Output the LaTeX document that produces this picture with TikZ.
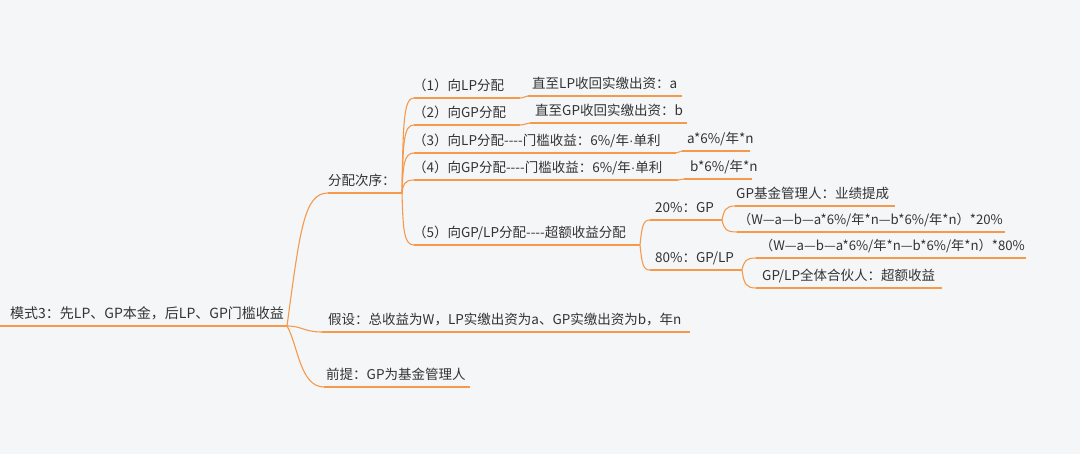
\documentclass[tikz,border=0pt]{standalone}
\usepackage{fontspec}
\setmainfont[Ligatures=TeXOff]{Noto Sans CJK SC}
\newfontfamily\dotfont{Liberation Sans}
\newcommand{\mdot}{{\dotfont ·}}
\definecolor{bgc}{HTML}{F5F6F8}
\definecolor{linec}{HTML}{F59A4C}
\definecolor{txtc}{HTML}{333333}
\begin{document}
\begin{tikzpicture}[x=1pt,y=-1pt,
  txt/.style={anchor=base west,inner sep=0pt,text=txtc,font=\fontsize{13.5}{15}\selectfont},
  roottxt/.style={txt,font=\fontsize{14}{16}\selectfont},
  formtxt/.style={txt,font=\fontsize{13.2}{15}\selectfont},
  ul/.style={draw=linec,line width=1.1pt},
  conn/.style={draw=linec,line width=1.1pt}]
\fill[bgc] (0,0) rectangle (1080,454);
\useasboundingbox (0,0) rectangle (1080,454);

% root
\node[roottxt] (root) at (10,319) {模式3：先LP、GP本金，后LP、GP门槛收益};
\coordinate (rootS) at (0,326); \coordinate (rootE) at (287,326);
\draw[ul] (rootS) -- (rootE);

% level 1
\node[txt] (a) at (328,186) {分配次序：};
\coordinate (aS) at (328,193); \coordinate (aE) at (402,193);
\node[txt] (b) at (328,325) {假设：总收益为W，LP实缴出资为a、GP实缴出资为b，年n};
\coordinate (bS) at (322,332); \coordinate (bE) at (690,332);
\node[txt] (c) at (326,380) {前提：GP为基金管理人};
\coordinate (cS) at (324,387); \coordinate (cE) at (470,387);
\draw[ul] (aS) -- (aE); \draw[ul] (bS) -- (bE); \draw[ul] (cS) -- (cE);
\draw[conn] (rootE) .. controls (300,230) and (304,193) .. (aS);
\draw[conn] (rootE) .. controls (302,326) and (304,332) .. (bS);
\draw[conn] (rootE) .. controls (298,345) and (300,387) .. (cS);

% level 2 under 分配次序
\node[txt] (a1) at (413,91) {（1）向LP分配};
\coordinate (a1S) at (414,98); \coordinate (a1E) at (520,98);
\node[txt] (a2) at (413,118) {（2）向GP分配};
\coordinate (a2S) at (414,125); \coordinate (a2E) at (520,125);
\node[txt] (a3) at (413,146) {（3）向LP分配----门槛收益：6\%/年\mdot 单利};
\coordinate (a3S) at (414,153); \coordinate (a3E) at (676,153);
\node[txt] (a4) at (413,173) {（4）向GP分配----门槛收益：6\%/年\mdot 单利};
\coordinate (a4S) at (414,180); \coordinate (a4E) at (678,180);
\node[txt] (a5) at (413,238) {（5）向GP/LP分配----超额收益分配};
\coordinate (a5S) at (414,245); \coordinate (a5E) at (640,245);
\foreach \n in {a1,a2,a3,a4,a5} \draw[ul] (\n S) -- (\n E);
\draw[conn] (aE) .. controls (403,120) and (404,98) .. (a1S);
\draw[conn] (aE) .. controls (403,140) and (404,125) .. (a2S);
\draw[conn] (aE) .. controls (403,165) and (404,153) .. (a3S);
\draw[conn] (aE) .. controls (403,185) and (404,180) .. (a4S);
\draw[conn] (aE) .. controls (403,230) and (404,245) .. (a5S);

% level 3 single children
\node[txt] (a1a) at (532,89) {直至LP收回实缴出资：a};
\coordinate (a1aS) at (528,96); \coordinate (a1aE) at (682,96);
\node[txt] (a2a) at (535,116) {直至GP收回实缴出资：b};
\coordinate (a2aS) at (530,123); \coordinate (a2aE) at (687,123);
\node[txt] (a3a) at (687,144) {a*6\%/年*n};
\coordinate (a3aS) at (682,151); \coordinate (a3aE) at (750,151);
\node[txt] (a4a) at (690,172) {b*6\%/年*n};
\coordinate (a4aS) at (684,179); \coordinate (a4aE) at (752,179);
\foreach \n in {a1a,a2a,a3a,a4a} \draw[ul] (\n S) -- (\n E);
\draw[conn] (a1E) .. controls (525,98) and (524,96) .. (a1aS);
\draw[conn] (a2E) .. controls (525,125) and (526,123) .. (a2aS);
\draw[conn] (a3E) .. controls (679,153) and (679,151) .. (a3aS);
\draw[conn] (a4E) .. controls (681,180) and (681,179) .. (a4aS);

% level 3 under (5)
\node[txt] (p20) at (655,213) {20\%：GP};
\coordinate (p20S) at (650,220); \coordinate (p20E) at (722,220);
\node[txt] (p80) at (655,263) {80\%：GP/LP};
\coordinate (p80S) at (650,270); \coordinate (p80E) at (742,270);
\draw[ul] (p20S) -- (p20E); \draw[ul] (p80S) -- (p80E);
\draw[conn] (a5E) .. controls (642,226) and (643,220) .. (p20S);
\draw[conn] (a5E) .. controls (642,264) and (643,270) .. (p80S);

% level 4
\node[txt] (g1) at (736,199) {GP基金管理人：业绩提成};
\coordinate (g1S) at (735,206); \coordinate (g1E) at (895,206);
\node[formtxt] (g2) at (738,225) {（W—a—b—a*6\%/年*n—b*6\%/年*n）*20\%};
\coordinate (g2S) at (737,232); \coordinate (g2E) at (1005,232);
\node[formtxt] (h1) at (760,251) {（W—a—b—a*6\%/年*n—b*6\%/年*n）*80\%};
\coordinate (h1S) at (756,258); \coordinate (h1E) at (1026,258);
\node[txt] (h2) at (762,281) {GP/LP全体合伙人：超额收益};
\coordinate (h2S) at (756,288); \coordinate (h2E) at (942,288);
\foreach \n in {g1,g2,h1,h2} \draw[ul] (\n S) -- (\n E);
\draw[conn] (p20E) .. controls (724,210) and (726,206) .. (g1S);
\draw[conn] (p20E) .. controls (724,229) and (726,232) .. (g2S);
\draw[conn] (p80E) .. controls (744,261) and (746,258) .. (h1S);
\draw[conn] (p80E) .. controls (744,284) and (746,288) .. (h2S);
\end{tikzpicture}
\end{document}
